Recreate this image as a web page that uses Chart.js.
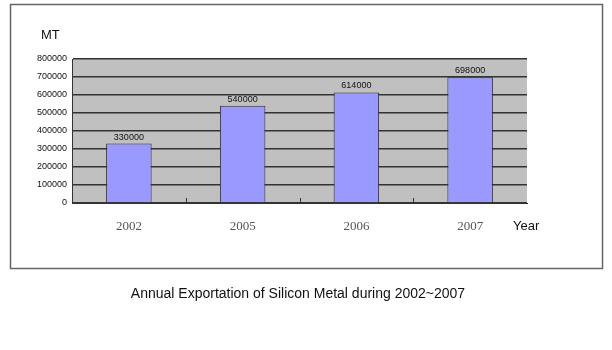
<!DOCTYPE html>
<html><head><meta charset="utf-8">
<script src="https://cdn.jsdelivr.net/npm/chart.js@4/dist/chart.umd.min.js"></script>
<style>html,body{margin:0;padding:0;background:#fff}canvas{display:block}</style>
</head><body>
<canvas id="c" width="612" height="350"></canvas>
<script>
const categories = ['2002', '2005', '2006', '2007'];
const exportsMT = [330000, 540000, 614000, 698000];
const yMax = 800000;
const yStep = 100000;
const yUnit = 'MT';
const xUnit = 'Year';
const caption = 'Annual Exportation of Silicon Metal during 2002~2007';

const decor = {
  id: 'decor',
  beforeDraw(chart) {
    const ctx = chart.ctx, a = chart.chartArea;
    ctx.save();
    ctx.fillStyle = '#fff';
    ctx.fillRect(0, 0, chart.width, chart.height);
    ctx.strokeStyle = '#666';
    ctx.lineWidth = 1.5;
    ctx.strokeRect(10.5, 4.5, 592, 264);
    ctx.fillStyle = '#c0c0c0';
    ctx.fillRect(a.left, a.top, a.right - a.left, a.bottom - a.top);
    ctx.restore();
  },
  afterDatasetsDraw(chart) {
    const ctx = chart.ctx, a = chart.chartArea;
    const meta = chart.getDatasetMeta(0);
    ctx.save();
    ctx.fillStyle = '#111';
    ctx.font = '9px "Liberation Sans", Arial, sans-serif';
    ctx.textAlign = 'center';
    ctx.textBaseline = 'bottom';
    meta.data.forEach((bar, i) => {
      ctx.fillText(String(chart.data.datasets[0].data[i]), bar.x, bar.y - 2);
    });
    const xs = chart.scales.x;
    ctx.strokeStyle = '#333';
    ctx.lineWidth = 1;
    for (let i = 1; i < categories.length; i++) {
      const px = Math.round((xs.getPixelForValue(i - 1) + xs.getPixelForValue(i)) / 2) + 0.5;
      ctx.beginPath(); ctx.moveTo(px, a.bottom - 5); ctx.lineTo(px, a.bottom); ctx.stroke();
    }
    ctx.fillStyle = '#111';
    ctx.font = '13px "Liberation Sans", Arial, sans-serif';
    ctx.textAlign = 'left';
    ctx.textBaseline = 'alphabetic';
    ctx.fillText(yUnit, 41, 39);
    ctx.fillText(xUnit, 513, 230);
    ctx.font = '14px "Liberation Sans", Arial, sans-serif';
    ctx.textAlign = 'center';
    ctx.fillText(caption, 298, 298);
    ctx.restore();
  }
};

new Chart(document.getElementById('c'), {
  type: 'bar',
  data: {
    labels: categories,
    datasets: [{
      data: exportsMT,
      backgroundColor: '#9999ff',
      borderColor: '#2a2a3a',
      borderWidth: 1,
      borderSkipped: 'bottom',
      barPercentage: 0.4,
      categoryPercentage: 1
    }]
  },
  options: {
    responsive: false,
    animation: false,
    devicePixelRatio: 1,
    layout: { padding: { left: 0, top: 59, right: 85, bottom: 0 } },
    plugins: { legend: { display: false }, tooltip: { enabled: false } },
    scales: {
      x: {
        afterFit(s) { s.height = 147; },
        grid: { display: false },
        border: { color: '#333', width: 1 },
        ticks: { color: '#555', padding: 8, font: { family: '"Liberation Serif", "DejaVu Serif", serif', size: 13 } }
      },
      y: {
        min: 0, max: yMax,
        afterFit(s) { s.width = 72; },
        grid: { color: '#333', lineWidth: 1.4, drawTicks: false },
        border: { color: '#333', width: 1 },
        ticks: {
          stepSize: yStep, padding: 5, color: '#111',
          font: { family: '"Liberation Sans", Arial, sans-serif', size: 9 },
          callback: v => String(v)
        }
      }
    }
  },
  plugins: [decor]
});
</script>
</body></html>
